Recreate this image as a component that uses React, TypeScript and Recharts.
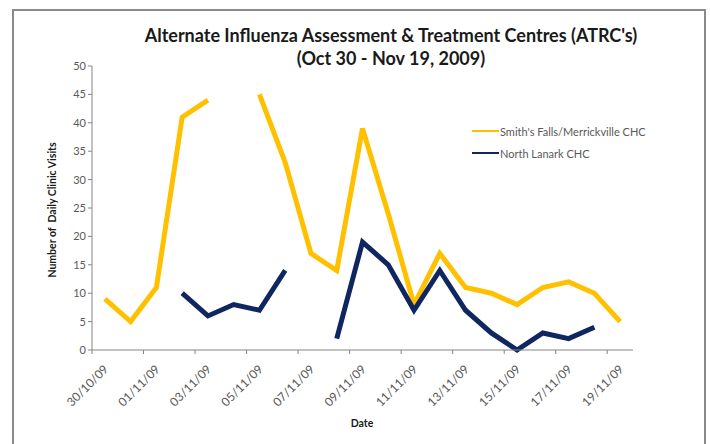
import React from "react";
import { LineChart, Line, XAxis, YAxis } from "recharts";

const dates = [
  "30/10/09", "31/10/09", "01/11/09", "02/11/09", "03/11/09", "04/11/09", "05/11/09",
  "06/11/09", "07/11/09", "08/11/09", "09/11/09", "10/11/09", "11/11/09", "12/11/09",
  "13/11/09", "14/11/09", "15/11/09", "16/11/09", "17/11/09", "18/11/09", "19/11/09",
];

const smithsFalls = [9, 5, 11, 41, 44, null, 45, 33, 17, 14, 39, 24, 8, 17, 11, 10, 8, 11, 12, 10, 5];
const northLanark = [null, null, null, 10, 6, 8, 7, 14, null, 2, 19, 15, 7, 14, 7, 3, 0, 3, 2, 4, null];

const xTicks = [0, 2, 4, 6, 8, 10, 12, 14, 16, 18, 20];
const yTicks = [0, 5, 10, 15, 20, 25, 30, 35, 40, 45, 50];

const YELLOW = "#FFC000";
const NAVY = "#0F2660";
const FONT = "Lato, 'Open Sans', sans-serif";

const data = dates.map((d, i) => ({
  x: i + 0.5,
  date: d,
  smith: smithsFalls[i],
  lanark: northLanark[i],
}));

const series = [
  { key: "smith", name: "Smith's Falls/Merrickville CHC", color: YELLOW },
  { key: "lanark", name: "North Lanark CHC", color: NAVY },
];

function DateTick(props: any) {
  const { x, y, payload } = props;
  const ax = x + 17;
  const ay = y + 14;
  return (
    <text
      x={ax}
      y={ay}
      transform={`rotate(-45, ${ax}, ${ay})`}
      textAnchor="end"
      fontSize={12}
      fill="#595959"
      fontFamily={FONT}
    >
      {dates[payload.value] ?? ""}
    </text>
  );
}

export default function App() {
  return (
    <div style={{ position: "absolute", left: 0, top: 0, width: 710, height: 444, background: "#fff", overflow: "hidden" }}>
      <div
        style={{
          position: "absolute",
          left: 12,
          top: 9,
          width: 694,
          height: 450,
          border: "2px solid #8a8a8a",
          boxSizing: "border-box",
        }}
      />
      <div
        style={{
          position: "absolute",
          left: 0,
          width: 782,
          top: 24,
          textAlign: "center",
          fontFamily: FONT,
          fontWeight: 700,
          fontSize: 18,
          lineHeight: "23px",
          color: "#1a1a1a",
        }}
      >
        Alternate Influenza Assessment &amp; Treatment Centres (ATRC's)
        <br />
        (Oct 30 - Nov 19, 2009)
      </div>
      <div
        style={{
          position: "absolute",
          left: 52,
          top: 210,
          transform: "translate(-50%, -50%) rotate(-90deg)",
          whiteSpace: "pre",
          fontFamily: FONT,
          fontWeight: 700,
          fontSize: 10.5,
          color: "#1a1a1a",
        }}
      >
        Number of  Daily Clinic Visits
      </div>
      <div
        style={{
          position: "absolute",
          left: 362,
          top: 423,
          transform: "translate(-50%, -50%)",
          fontFamily: FONT,
          fontWeight: 700,
          fontSize: 10.5,
          color: "#1a1a1a",
        }}
      >
        Date
      </div>
      <div style={{ position: "absolute", left: 472, top: 120, fontFamily: FONT, fontSize: 11, color: "#595959" }}>
        {series.map((s) => (
          <div key={s.key} style={{ display: "flex", alignItems: "center", height: 22 }}>
            <span style={{ display: "inline-block", width: 27, height: 2, background: s.color }} />
            <span style={{ marginLeft: 1 }}>{s.name}</span>
          </div>
        ))}
      </div>
      <div style={{ position: "absolute", left: 0, top: 0 }}>
        <LineChart width={710} height={444} data={data} margin={{ top: 66, right: 77, left: 52, bottom: 34 }}>
          <XAxis
            dataKey="x"
            type="number"
            domain={[0, 21]}
            ticks={xTicks}
            interval={0}
            height={60}
            tick={<DateTick />}
            tickSize={4}
            axisLine={{ stroke: "#868686" }}
            tickLine={{ stroke: "#868686" }}
          />
          <YAxis
            domain={[0, 50]}
            ticks={yTicks}
            width={40}
            tickSize={4}
            tick={{ fontSize: 11, fill: "#595959", fontFamily: FONT }}
            axisLine={{ stroke: "#868686" }}
            tickLine={{ stroke: "#868686" }}
          />
          {series.map((s) => (
            <Line
              key={s.key}
              dataKey={s.key}
              name={s.name}
              stroke={s.color}
              strokeWidth={5}
              dot={false}
              isAnimationActive={false}
              strokeLinejoin="miter"
            />
          ))}
        </LineChart>
      </div>
    </div>
  );
}
